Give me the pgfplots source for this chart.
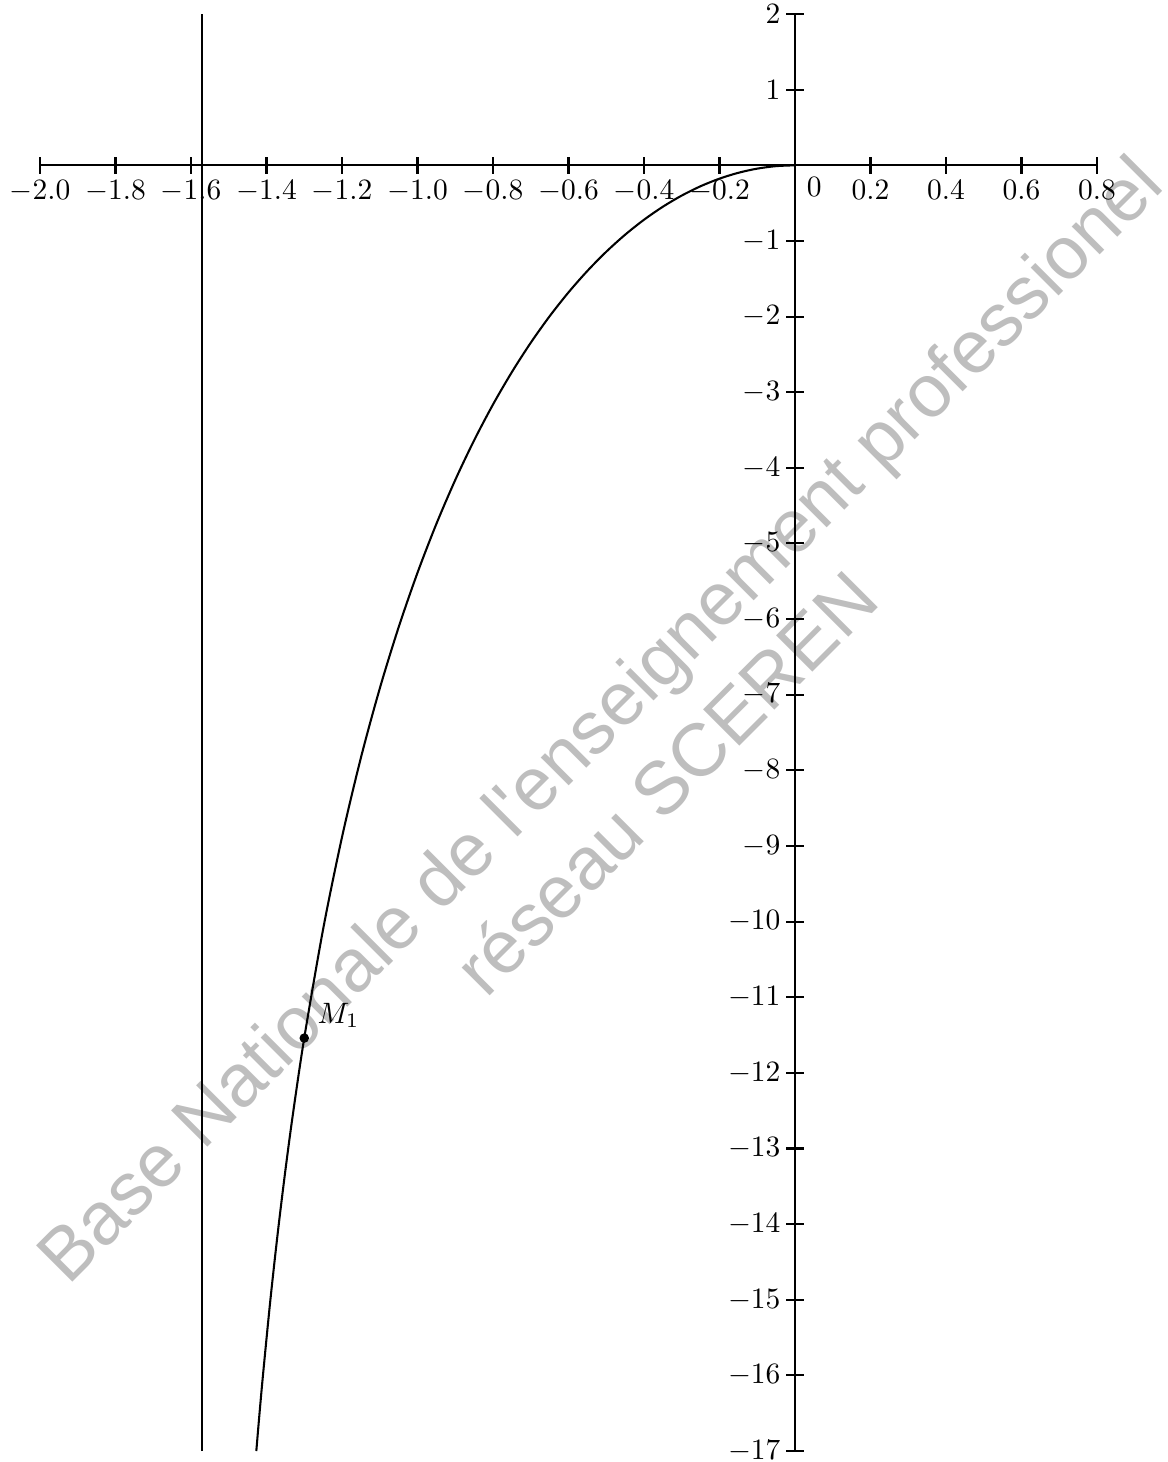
\documentclass[border=0pt]{standalone}
\usepackage{fontspec}
\usepackage{pgfplots}
\pgfplotsset{compat=1.18}
\newfontfamily\wmfont{Liberation Sans}
\definecolor{wm}{gray}{0.745}
\begin{document}
\begin{tikzpicture}
\begin{axis}[
  set layers,
  scale only axis,
  width=358.3pt, height=487.1pt,
  xmin=-2, xmax=0.8, ymin=-17, ymax=2,
  axis lines=middle,
  axis line style={-, line width=0.7pt},
  enlargelimits=false,
  clip=false,
  xtick={-2,-1.8,-1.6,-1.4,-1.2,-1,-0.8,-0.6,-0.4,-0.2,0.2,0.4,0.6,0.8},
  ytick={-17,-16,-15,-14,-13,-12,-11,-10,-9,-8,-7,-6,-5,-4,-3,-2,-1,1,2},
  xticklabel style={/pgf/number format/.cd,fixed,fixed zerofill,precision=1,/tikz/.cd,yshift=1.2pt},
  yticklabel style={xshift=1.5pt},
  tick label style={font=\fontsize{10}{12}\selectfont},
  tick align=center,
  major tick length=5.8pt,
  tick style={line width=0.7pt, black},
]
\begin{pgfonlayer}{axis background}
\node[wm, rotate=45, anchor=base, inner sep=0pt, font=\wmfont\fontsize{25.3}{30}\selectfont]
  at (axis cs:-0.470,-7.56) {Base Nationale de l'enseignement professionel};
\node[wm, rotate=45, anchor=base, inner sep=0pt, font=\wmfont\fontsize{25.3}{30}\selectfont]
  at (axis cs:-0.293,-8.41) {réseau SCEREN};
\end{pgfonlayer}
% vertical line x = -pi/2
\addplot[black, line width=0.7pt] coordinates {(-1.5708,-17) (-1.5708,2)};
% curve
\addplot[black, line width=0.7pt, smooth] coordinates {
(-1.427,-17.0)
(-1.42,-16.5868)
(-1.41,-16.0295)
(-1.39,-15.0136)
(-1.37,-14.1066)
(-1.35,-13.2881)
(-1.33,-12.5432)
(-1.30,-11.5380)
(-1.25,-10.0989)
(-1.20,-8.8825)
(-1.15,-7.8339)
(-1.10,-6.9173)
(-1.05,-6.1076)
(-1.00,-5.3867)
(-0.95,-4.7410)
(-0.90,-4.1602)
(-0.85,-3.6360)
(-0.80,-3.1622)
(-0.75,-2.7335)
(-0.70,-2.3457)
(-0.65,-1.9954)
(-0.60,-1.6798)
(-0.55,-1.3962)
(-0.50,-1.1426)
(-0.45,-0.9175)
(-0.40,-0.7195)
(-0.35,-0.5473)
(-0.30,-0.3998)
(-0.25,-0.2763)
(-0.20,-0.1762)
(-0.15,-0.0988)
(-0.10,-0.0438)
(-0.05,-0.0110)
(0,0)
};
% point M1
\addplot[only marks, mark=*, mark size=1.4pt, black] coordinates {(-1.30,-11.54)}
  node[anchor=south west, inner sep=0pt, xshift=4.3pt, yshift=3.4pt] {$M_1$};
\node[anchor=north west, inner sep=0pt] at (axis cs:0.03,-0.15) {$0$};
\coordinate (bbl) at (axis cs:-2.106,-17.145);
\coordinate (btr) at (axis cs:0.9854,2.186);
\end{axis}
\pgfresetboundingbox
\path[use as bounding box] (bbl) rectangle (btr);
\end{tikzpicture}
\end{document}
